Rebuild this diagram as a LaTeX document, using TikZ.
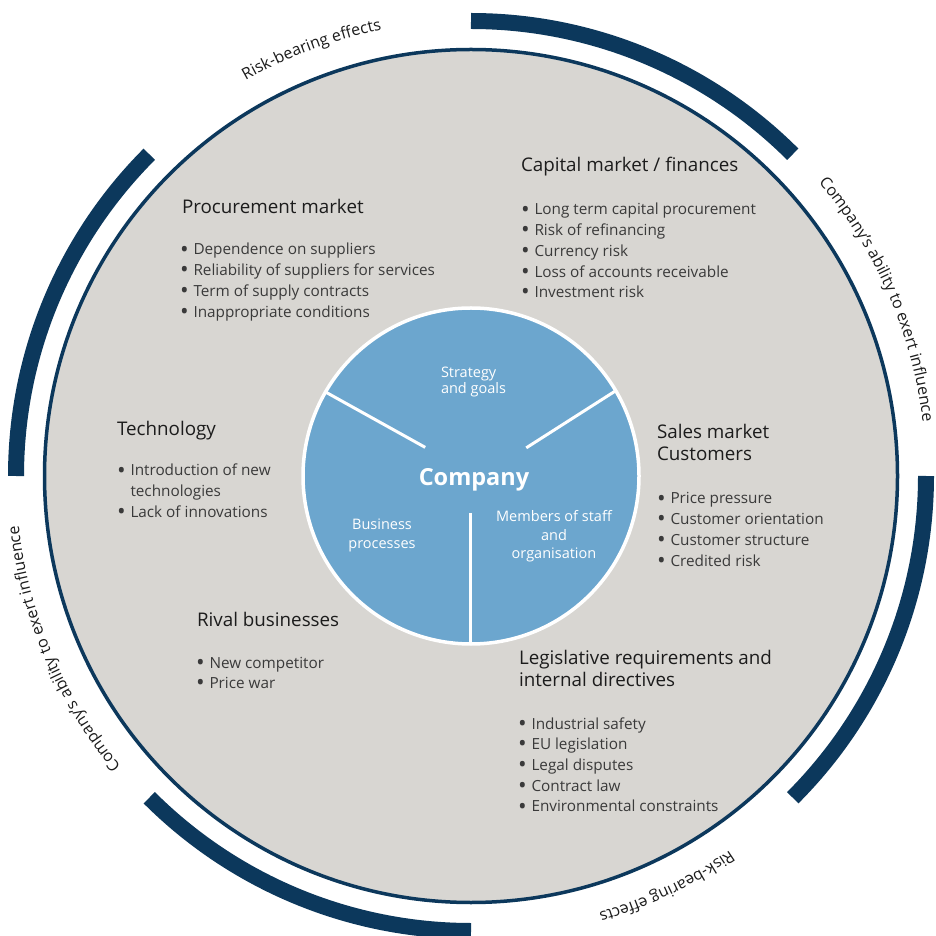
\documentclass[tikz,border=0pt]{standalone}
\usepackage{fontspec}
\setmainfont{Open Sans}
\usetikzlibrary{decorations.text}
\definecolor{navy}{RGB}{12,56,92}
\definecolor{panel}{RGB}{216,214,210}
\definecolor{core}{RGB}{108,166,206}
\definecolor{headc}{RGB}{28,28,28}
\definecolor{itemc}{RGB}{58,58,58}
\newcommand\bitem[1]{\makebox[11.5pt][l]{\hspace*{-2pt}\raisebox{-2.2pt}{\scalebox{1.5}{\textbullet}}}#1}
\newcommand\noitem[1]{\hspace*{11.5pt}#1}
\newcommand\headfont{\fontsize{18.8}{22}\selectfont}
\newcommand\itemfont{\fontsize{15.3}{20}\selectfont}
\newcommand\innerfont{\fontsize{14.5}{18}\selectfont}
\newcommand\curvefont{\fontsize{16}{18}\selectfont}
\newcommand\cofont{\fontsize{23.5}{26}\selectfont\bfseries}
\tikzset{
  head/.style={anchor=base west, inner sep=0pt, outer sep=0pt, font=\headfont, text=headc},
  item/.style={anchor=base west, inner sep=0pt, outer sep=0pt, font=\itemfont, text=itemc},
  coretext/.style={anchor=base, inner sep=0pt, outer sep=0pt, font=\innerfont, text=white},
  ring/.style={navy, line width=16pt},
  divider/.style={white, line width=3pt},
}
\begin{document}
\begin{tikzpicture}[x=1pt,y=1pt]
\useasboundingbox (0,0) rectangle (936,935);
\fill[white] (0,0) rectangle (936,935);
\begin{scope}[shift={(471,459)}]
  \coordinate (C) at (0,0);
  % outer panel
  \draw[navy, line width=3.5pt, fill=panel] (C) circle[radius=426.5];
  % influence arcs
  \foreach \a in {45,135,225,315}
    \draw[ring] (\a:455) arc[start angle=\a, end angle=\a+45, radius=455];
  % curved labels
  \path[decorate, decoration={text along path, text align=center,
      text={|\curvefont\color{headc}|Risk-bearing effects}}]
      (135.5:455) arc[start angle=135.5, end angle=85.5, radius=455];
  \path[decorate, decoration={text along path, text align=center,
      text={|\curvefont\color{headc}|Company's ability to exert influence}}]
      (53.5:455) arc[start angle=53.5, end angle=-6.5, radius=455];
  \path[decorate, decoration={text along path, text align=center,
      text={|\curvefont\color{headc}|Risk-bearing effects}}]
      (-39.5:455) arc[start angle=-39.5, end angle=-89.5, radius=455];
  \path[decorate, decoration={text along path, text align=center,
      text={|\curvefont\color{headc}|Company's ability to exert influence}}]
      (233:455) arc[start angle=233, end angle=173, radius=455];
  % core circle
  \draw[white, line width=3.5pt, fill=core] (C) circle[radius=168];
  \coordinate (d1a) at (148:54);  \coordinate (d1b) at (150:168);
  \coordinate (d2a) at (27:62);   \coordinate (d2b) at (30.5:168);
  \coordinate (d3a) at (-1,-37);  \coordinate (d3b) at (-1,-168);
  \draw[divider] (d1a) -- (d1b);
  \draw[divider] (d2a) -- (d2b);
  \draw[divider] (d3a) -- (d3b);
\end{scope}

% core texts
\node[coretext, anchor=base west] (sg1) at (441,557) {Strategy};
\node[coretext, anchor=base west] (sg2) at (441,541) {and goals};
\node[coretext, font=\cofont] (co) at (474,449) {Company};
\node[coretext] (bp1) at (382,405) {Business};
\node[coretext] (bp2) at (382,387) {processes};
\node[coretext] (ms1) at (554,413) {Members of staff};
\node[coretext] (ms2) at (554,395) {and};
\node[coretext] (ms3) at (554,377) {organisation};

% Procurement market
\node[head] (pmh) at (182,721) {Procurement market};
\foreach \t [count=\i] in {Dependence on suppliers, Reliability of suppliers for services, Term of supply contracts, Inappropriate conditions}
  \node[item] (pm\i) at (182,{680-20.7*(\i-1)}) {\bitem{\t}};

% Capital market
\node[head] (cmh) at (521,763) {Capital market / finances};
\foreach \t [count=\i] in {Long term capital procurement, Risk of refinancing, Currency risk, Loss of accounts receivable, Investment risk}
  \node[item] (cm\i) at (523,{720-20.7*(\i-1)}) {\bitem{\t}};

% Technology
\node[head] (teh) at (117,499) {Technology};
\node[item] (te1) at (119,459) {\bitem{Introduction of new}};
\node[item] (te2) at (119,438.3) {\noitem{technologies}};
\node[item] (te3) at (119,417.6) {\bitem{Lack of innovations}};

% Sales market
\node[head] (smh1) at (657,496) {Sales market};
\node[head] (smh2) at (657,474) {Customers};
\foreach \t [count=\i] in {Price pressure, Customer orientation, Customer structure, Credited risk}
  \node[item] (sm\i) at (659,{431-20.7*(\i-1)}) {\bitem{\t}};

% Rival businesses
\node[head] (rbh) at (197,309) {Rival businesses};
\foreach \t [count=\i] in {New competitor, Price war}
  \node[item] (rb\i) at (198,{267-20.7*(\i-1)}) {\bitem{\t}};

% Legislative requirements
\node[head] (lrh1) at (519,271) {Legislative requirements and};
\node[head] (lrh2) at (519,249) {internal directives};
\foreach \t [count=\i] in {Industrial safety, EU legislation, Legal disputes, Contract law, Environmental constraints}
  \node[item] (lr\i) at (520,{206-20.7*(\i-1)}) {\bitem{\t}};
\end{tikzpicture}
\end{document}
